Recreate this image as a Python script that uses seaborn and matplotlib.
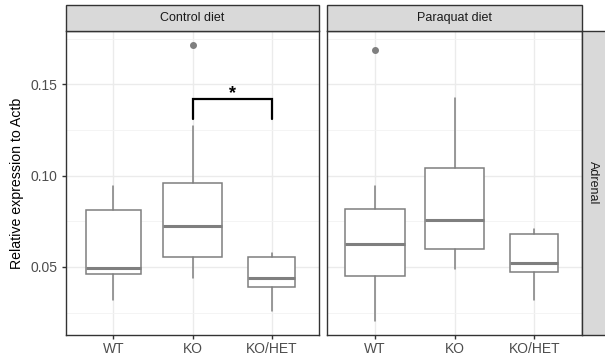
import numpy as np
import pandas as pd
import matplotlib
matplotlib.use("Agg")
import matplotlib.pyplot as plt
from matplotlib.patches import Rectangle
from matplotlib.ticker import MultipleLocator, FixedLocator
import seaborn as sns

# ---- data -------------------------------------------------------------
diets = ["Control diet", "Paraquat diet"]
genotypes = ["WT", "KO", "KO/HET"]
tissue = "Adrenal"
y_label = "Relative expression to Actb"

# box summaries per diet, in genotype order
ctrl_whislo = [0.0320, 0.0438, 0.0258]
ctrl_q1 = [0.0460, 0.0553, 0.0391]
ctrl_med = [0.0493, 0.0725, 0.0440]
ctrl_q3 = [0.0811, 0.0962, 0.0555]
ctrl_whishi = [0.0944, 0.1271, 0.0576]
ctrl_fliers = [[], [0.1717], []]
ctrl_n = [15, 17, 11]

pq_whislo = [0.0203, 0.0489, 0.0318]
pq_q1 = [0.0449, 0.0600, 0.0474]
pq_med = [0.0627, 0.0758, 0.0522]
pq_q3 = [0.0820, 0.1040, 0.0682]
pq_whishi = [0.0943, 0.1427, 0.0707]
pq_fliers = [[0.1689], [], []]
pq_n = [17, 17, 11]

# significance annotation in the control panel
sig_diet = "Control diet"
sig_pair = ("KO", "KO/HET")
sig_label = "*"
sig_top = 0.1418
sig_bottom = 0.1308

y_ticks = [0.05, 0.10, 0.15]
y_tick_labels = ["0.05", "0.10", "0.15"]

# ---- long table -------------------------------------------------------
rows = []
for diet, lo, q1, med, q3, hi, fl, n in [
    (diets[0], ctrl_whislo, ctrl_q1, ctrl_med, ctrl_q3, ctrl_whishi, ctrl_fliers, ctrl_n),
    (diets[1], pq_whislo, pq_q1, pq_med, pq_q3, pq_whishi, pq_fliers, pq_n),
]:
    for i, g in enumerate(genotypes):
        rows.append(dict(diet=diet, genotype=g, whislo=lo[i], q1=q1[i], med=med[i],
                         q3=q3[i], whishi=hi[i], fliers=fl[i], n=n[i]))
df = pd.DataFrame(rows)
n_max = df["n"].max()

# ---- style ------------------------------------------------------------
sns.set_theme(style="whitegrid")
plt.rcParams["font.family"] = ["Liberation Sans", "DejaVu Sans"]

BOX = "#7f7f7f"
DARK = "#333333"
GRID = "#ebebeb"
STRIP = "#d9d9d9"

W, H = 605, 356


def draw_boxes(data, **kws):
    ax = plt.gca()
    stats = [dict(med=r.med, q1=r.q1, q3=r.q3, whislo=r.whislo, whishi=r.whishi,
                  fliers=r.fliers, label=r.genotype) for r in data.itertuples()]
    pos = [genotypes.index(g) for g in data["genotype"]]
    widths = 0.75 * np.sqrt(data["n"].to_numpy() / n_max)
    ax.bxp(stats, positions=pos, widths=widths, showcaps=False, patch_artist=True,
           manage_ticks=False,
           boxprops=dict(facecolor="white", edgecolor=BOX, linewidth=1.1),
           medianprops=dict(color=BOX, linewidth=2.2, solid_capstyle="butt"),
           whiskerprops=dict(color=BOX, linewidth=1.1),
           flierprops=dict(marker="o", markerfacecolor=BOX, markeredgecolor=BOX,
                           markersize=4, linestyle="none"))


g = sns.FacetGrid(df, col="diet", col_order=diets, sharey=True, height=3.56, aspect=0.85)
g.map_dataframe(draw_boxes)
g.set_titles(col_template="")
g.set_axis_labels("", "")

fig = g.figure
fig.set_size_inches(W / 100, H / 100)
fig.patch.set_facecolor("white")

panels = [(66, 319), (327, 582)]
top, bottom = 31, 335

for k, ax in enumerate(g.axes.flat):
    x0, x1 = panels[k]
    ax.set_position([x0 / W, 1 - bottom / H, (x1 - x0) / W, (bottom - top) / H])
    ax.set_xlim(-0.6, 2.6)
    ax.set_ylim(0.0127, 0.1793)
    ax.set_facecolor("white")
    ax.set_axisbelow(True)
    ax.xaxis.set_major_locator(FixedLocator(range(len(genotypes))))
    ax.set_xticklabels(genotypes)
    ax.yaxis.set_major_locator(FixedLocator(y_ticks))
    ax.yaxis.set_minor_locator(MultipleLocator(0.025))
    ax.grid(which="major", color=GRID, linewidth=1.0)
    ax.grid(which="minor", axis="y", color="#f3f3f3", linewidth=0.6)
    for s in ax.spines.values():
        s.set_visible(True)
        s.set_color(DARK)
        s.set_linewidth(1.0)
    ax.tick_params(axis="x", which="major", bottom=True, length=3, width=1.0, color=DARK,
                   labelsize=10, labelcolor="#4d4d4d", pad=2)
    ax.tick_params(axis="y", which="minor", left=False)
    if k == 0:
        ax.set_yticklabels(y_tick_labels)
        ax.tick_params(axis="y", which="major", left=True, length=3, width=1.0, color=DARK,
                       labelsize=10, labelcolor="#4d4d4d", pad=3)
    else:
        ax.tick_params(axis="y", which="major", left=False, labelleft=False)

    # facet strip on top
    fig.add_artist(Rectangle((x0 / W, 1 - top / H), (x1 - x0) / W, 26 / H,
                             transform=fig.transFigure, facecolor=STRIP,
                             edgecolor=DARK, linewidth=1.0))
    fig.text((x0 + x1) / 2 / W, 1 - 18 / H, diets[k], ha="center", va="center",
             fontsize=9, color="#1a1a1a")

    if diets[k] == sig_diet:
        xa, xb = genotypes.index(sig_pair[0]), genotypes.index(sig_pair[1])
        ax.plot([xa, xa, xb, xb], [sig_bottom, sig_top, sig_top, sig_bottom],
                color="black", linewidth=1.6, solid_joinstyle="miter")
        ax.text((xa + xb) / 2, sig_top + 0.0005, sig_label, ha="center", va="baseline",
                fontsize=13, fontweight="bold", color="black")

# row strip on the right
fig.add_artist(Rectangle((582 / W, 1 - bottom / H), 30 / W, (bottom - top) / H,
                         transform=fig.transFigure, facecolor=STRIP,
                         edgecolor=DARK, linewidth=1.0))
fig.text(593 / W, 1 - (top + bottom) / 2 / H, tissue, rotation=-90, ha="center",
         va="center", fontsize=9, color="#1a1a1a")

fig.text(17 / W, 1 - 183 / H, y_label, rotation=90, ha="center", va="center",
         fontsize=10.2, color="black")

fig.savefig("out.png", dpi=100)
